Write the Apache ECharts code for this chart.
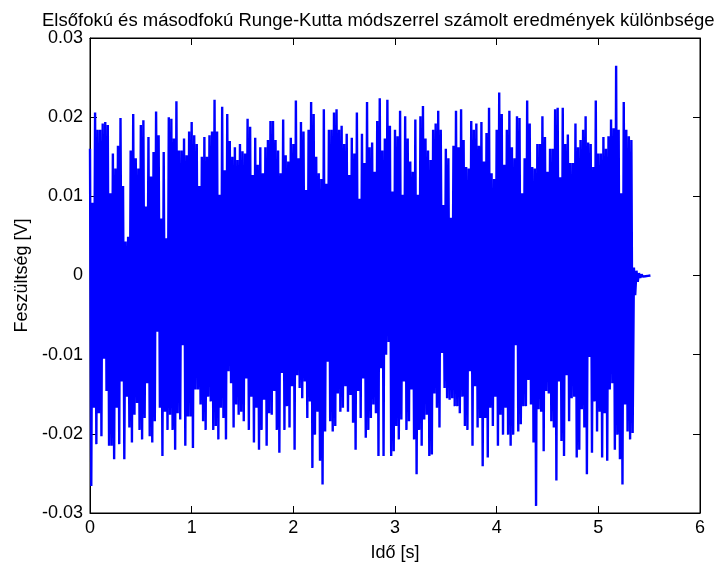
<!DOCTYPE html>
<html>
<head>
<meta charset="utf-8">
<script src="https://cdn.jsdelivr.net/npm/echarts@6/dist/echarts.min.js"></script>
<style>
  html, body { margin: 0; padding: 0; background: #fff; }
  #chart { width: 728px; height: 567px; }
</style>
</head>
<body>
<div id="chart"></div>
<script>
// peaks, in thousandths of a volt, one pair per 0.025 s column
const sampleStep = 0.025
const upperPeaks = [
  16.0, 9.2, 20.6, 18.4, 18.4, 19.2, 19.4, 19.0, 10.4, 15.4,
  13.5, 16.4, 19.9, 11.3, 4.3, 4.9, 15.8, 20.4, 14.8, 13.5,
  19.0, 19.6, 8.7, 17.5, 12.5, 15.6, 20.7, 17.7, 7.2, 15.6,
  4.7, 20.0, 19.8, 17.3, 22.0, 15.8, 15.8, 17.3, 15.2, 18.2,
  19.4, 17.7, 16.6, 11.3, 15.0, 17.5, 15.0, 17.7, 18.2, 22.2,
  18.2, 10.2, 21.3, 13.3, 20.4, 17.0, 15.0, 16.2, 14.6, 16.6,
  15.7, 15.4, 19.8, 18.8, 12.7, 17.4, 14.0, 16.2, 12.9, 16.2,
  17.1, 19.5, 19.5, 17.1, 15.8, 12.9, 19.7, 15.2, 14.4, 17.4,
  16.6, 22.1, 14.8, 19.4, 18.2, 10.8, 18.4, 21.9, 20.4, 15.0,
  12.9, 12.2, 21.0, 11.6, 18.4, 18.4, 20.6, 21.0, 18.4, 18.9,
  16.6, 17.9, 12.7, 17.4, 15.4, 20.6, 9.7, 17.9, 14.2, 21.9,
  16.2, 16.8, 13.1, 19.5, 22.4, 15.8, 17.3, 22.2, 18.9, 10.6,
  18.4, 17.6, 20.8, 10.2, 20.1, 17.3, 14.4, 13.1, 19.7, 10.2,
  20.1, 21.4, 17.3, 15.8, 14.6, 18.4, 19.2, 20.8, 18.4, 8.9,
  16.0, 14.8, 7.3, 16.4, 20.8, 16.2, 21.0, 17.1, 13.7, 13.5,
  19.5, 18.4, 19.2, 16.4, 19.4, 14.4, 18.0, 21.2, 12.9, 12.2,
  18.4, 23.1, 20.4, 14.0, 18.4, 20.8, 16.2, 14.8, 20.1, 19.9,
  10.4, 14.8, 22.1, 19.2, 13.7, 13.5, 16.6, 16.6, 20.1, 17.5,
  13.1, 16.0, 16.0, 21.0, 21.2, 12.4, 21.2, 16.6, 17.8, 14.2,
  14.2, 19.2, 16.2, 17.1, 18.4, 20.1, 16.8, 16.6, 13.7, 22.1,
  15.4, 15.4, 17.5, 16.0, 17.6, 19.7, 18.6, 26.5, 18.4, 10.4,
  21.9, 18.4, 17.6, 17.1,
  // decaying tail
  1.0, 0.6, 0.3, 0.15, 0.1, 0.05, 0.0
]
const lowerPeaks = [
  -26.6, -16.7, -21.3, -17.4, -20.3, -10.5, -14.6, -21.5, -21.5, -23.2,
  -16.7, -21.3, -13.4, -23.2, -15.3, -19.2, -21.1, -17.6, -16.1, -19.5,
  -20.7, -18.0, -13.6, -20.3, -21.1, -18.4, -7.1, -16.7, -22.8, -17.2,
  -19.5, -17.6, -19.5, -22.0, -17.4, -18.2, -8.8, -21.5, -17.8, -17.8,
  -21.8, -14.4, -14.4, -16.3, -18.4, -19.5, -15.3, -15.9, -19.5, -19.0,
  -20.7, -16.7, -18.0, -20.7, -12.1, -13.6, -19.2, -16.3, -17.6, -17.2,
  -18.4, -13.0, -19.5, -15.3, -21.1, -16.7, -22.0, -19.5, -15.7, -21.5,
  -17.4, -17.6, -14.6, -19.5, -22.4, -12.3, -19.5, -16.5, -19.2, -14.0,
  -22.0, -12.6, -14.2, -15.5, -13.4, -18.0, -15.9, -24.3, -20.1, -17.2,
  -23.4, -26.4, -19.7, -10.9, -18.4, -19.7, -19.0, -14.9, -17.2, -16.7,
  -14.0, -17.2, -15.1, -18.6, -22.0, -14.6, -18.0, -13.0, -20.5, -19.5,
  -18.0, -16.3, -17.4, -22.8, -11.7, -22.8, -10.0, -8.4, -22.8, -22.2,
  -19.0, -20.7, -18.2, -13.4, -19.5, -18.4, -14.4, -20.7, -25.1, -19.5,
  -21.5, -18.2, -17.6, -22.8, -22.6, -14.9, -16.7, -19.2, -9.8, -14.2,
  -15.5, -15.7, -15.5, -16.5, -16.5, -17.4, -15.3, -19.0, -19.5, -12.1,
  -21.5, -14.0, -19.2, -18.0, -24.1, -18.0, -23.0, -16.7, -19.0, -15.3,
  -21.5, -17.6, -20.1, -16.7, -20.1, -21.5, -20.1, -8.8, -19.7, -18.8,
  -16.5, -16.5, -13.2, -16.3, -21.1, -29.1, -16.9, -17.2, -22.2, -14.6,
  -14.9, -18.4, -19.2, -25.9, -13.4, -20.9, -22.8, -12.6, -18.4, -15.5,
  -15.3, -23.0, -22.0, -16.9, -19.2, -25.1, -10.3, -22.4, -15.9, -19.7,
  -17.2, -23.0, -17.4, -23.4, -14.4, -13.6, -22.0, -20.1, -23.2, -26.4,
  -16.3, -19.7, -20.7, -19.9,
  -2.5, -0.8, -0.3, -0.15, -0.1, -0.05, 0.0
]
const xTicks = [0, 1, 2, 3, 4, 5, 6]
const yTicks = [-0.03, -0.02, -0.01, 0, 0.01, 0.02, 0.03]

const chart = echarts.init(document.getElementById('chart'))

// zig-zag between the top and bottom of every column, like the dense signal
const signal = []
upperPeaks.forEach((u, i) => {
  const t = i * sampleStep
  signal.push([t, u / 1000])
  signal.push([t + sampleStep / 2, lowerPeaks[i] / 1000])
})

const font = 'Liberation Sans, Arial, sans-serif'
const axisLine = { show: true, onZero: false, lineStyle: { color: '#000', width: 1 } }
const tick = { show: true, inside: true, length: 7, lineStyle: { color: '#000' } }

chart.setOption({
  animation: false,
  backgroundColor: '#fff',
  title: {
    text: 'Elsőfokú és másodfokú Runge-Kutta módszerrel számolt eredmények különbsége',
    left: 37,
    top: 6,
    textStyle: { fontFamily: font, fontSize: 18.5, fontWeight: 'normal', color: '#000' }
  },
  grid: {
    left: 90, right: 28, top: 38, bottom: 52,
    show: true, borderColor: '#000', borderWidth: 1
  },
  xAxis: [
    {
      type: 'value', min: xTicks[0], max: xTicks[xTicks.length - 1], interval: 1,
      name: 'Idő [s]', nameLocation: 'middle', nameGap: 31,
      nameTextStyle: { fontFamily: font, fontSize: 18, color: '#000' },
      axisLine, axisTick: tick, splitLine: { show: false },
      axisLabel: { fontFamily: font, fontSize: 18, color: '#000', margin: 6 }
    },
    {
      type: 'value', position: 'top', min: xTicks[0], max: xTicks[xTicks.length - 1], interval: 1,
      axisLine, axisTick: tick, splitLine: { show: false }, axisLabel: { show: false }
    }
  ],
  yAxis: [
    {
      type: 'value', min: yTicks[0], max: yTicks[yTicks.length - 1], interval: 0.01,
      name: 'Feszültség [V]', nameLocation: 'middle', nameGap: 59,
      nameTextStyle: { fontFamily: font, fontSize: 18, color: '#000' },
      axisLine, axisTick: tick, splitLine: { show: false },
      axisLabel: {
        fontFamily: font, fontSize: 18, color: '#000', margin: 7,
        formatter: v => String(Math.round(v * 100) / 100)
      }
    },
    {
      type: 'value', position: 'right', min: yTicks[0], max: yTicks[yTicks.length - 1], interval: 0.01,
      axisLine, axisTick: tick, splitLine: { show: false }, axisLabel: { show: false }
    }
  ],
  series: [
    {
      type: 'line',
      data: signal,
      showSymbol: false,
      symbol: 'none',
      sampling: null,
      lineStyle: { color: '#0000ff', width: 2.4 },
      clip: true
    }
  ]
})
</script>
</body>
</html>
